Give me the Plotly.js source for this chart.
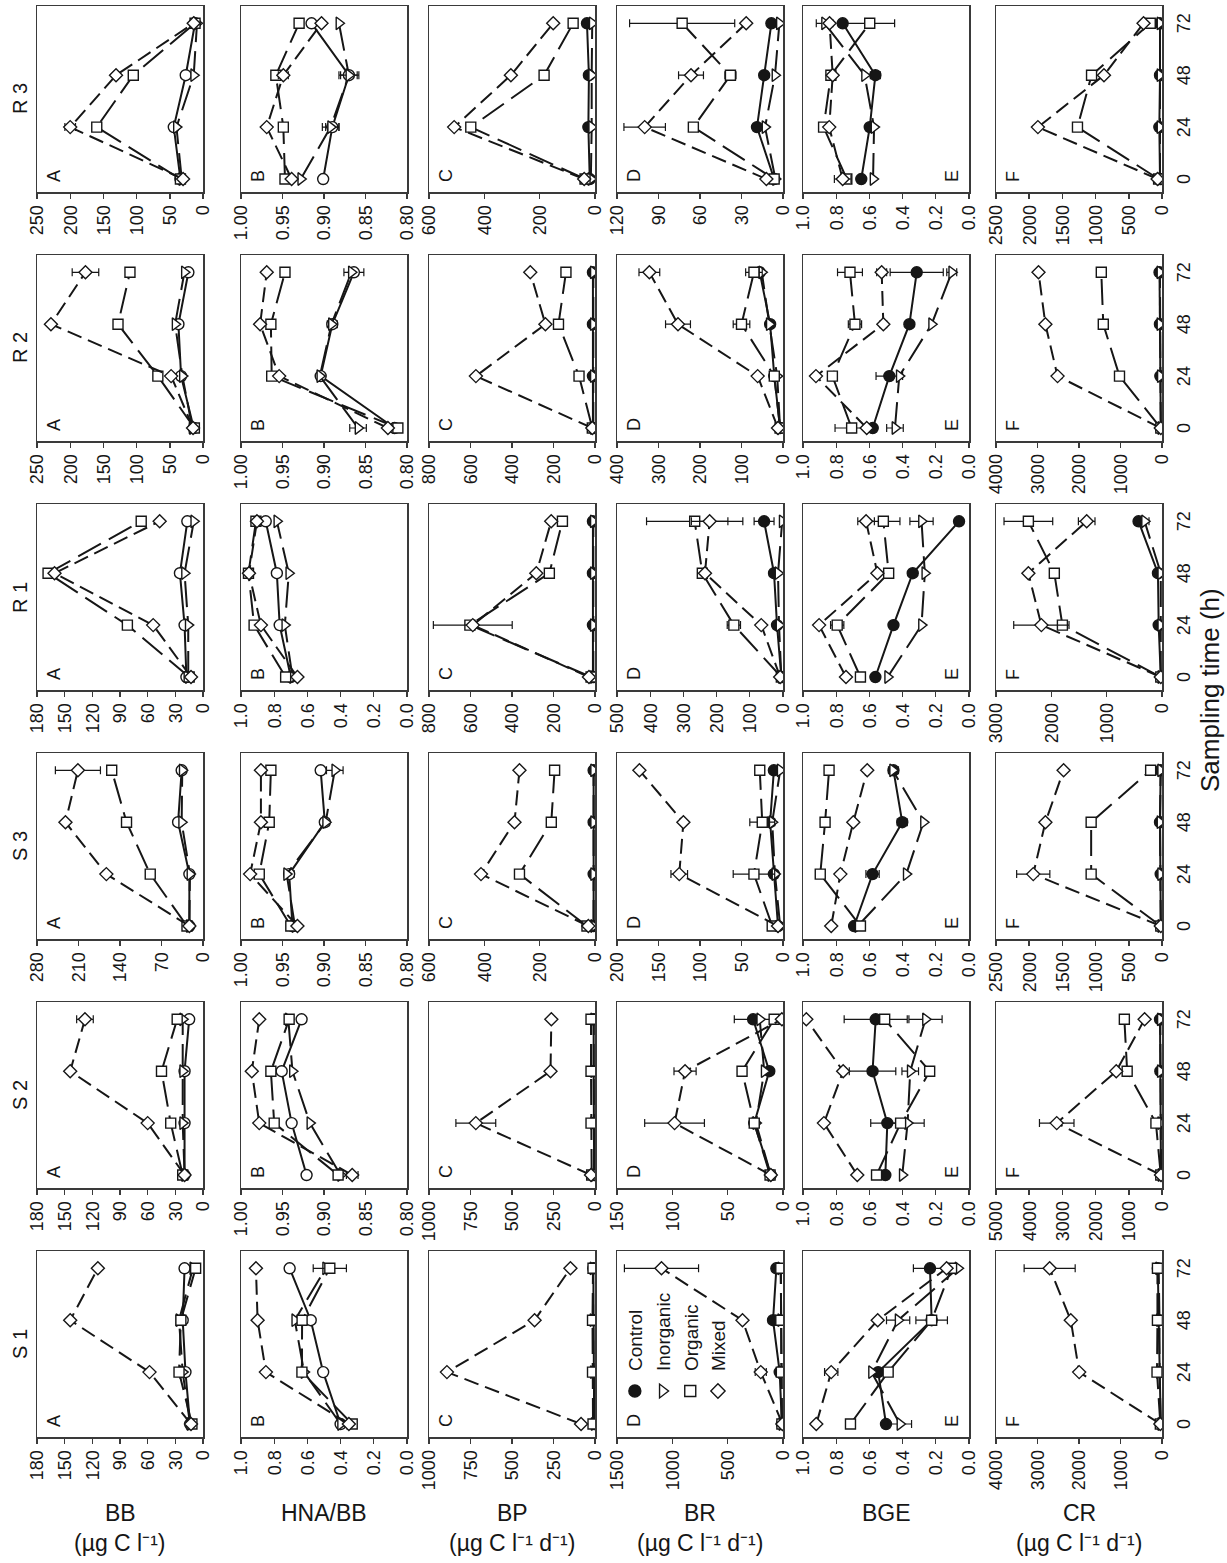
<!DOCTYPE html>
<html><head><meta charset="utf-8">
<script src="https://cdn.plot.ly/plotly-3.0.1.min.js"></script>
<style>
html,body{margin:0;padding:0;background:#fff;overflow:hidden}
#wrap{position:absolute;left:0;top:0;width:1227px;height:1563px;overflow:hidden;background:#fff}
#plot{position:absolute;left:0;top:0;width:1563px;height:1227px;transform-origin:0 0;transform:translate(0px,1563px) rotate(-90deg)}
</style></head>
<body><div id="wrap"><div id="plot"></div></div>
<script>
// ---------------- DATA ----------------
const TIMES = [0, 24, 48, 72];
const TIME_TICKS = ['0', '24', '48', '72'];
const STATIONS = ['S1', 'S2', 'S3', 'R1', 'R2', 'R3'];
const STATION_LABELS = ['S 1', 'S 2', 'S 3', 'R 1', 'R 2', 'R 3'];
const TREATMENTS = ['Control', 'Inorganic', 'Organic', 'Mixed'];
const VARIABLE_NAMES = ['BB', 'HNA/BB', 'BP', 'BR', 'BGE', 'CR'];
const VARIABLE_UNITS = ['(µg C l⁻¹)', '', '(µg C l⁻¹ d⁻¹)', '(µg C l⁻¹ d⁻¹)', '', '(µg C l⁻¹ d⁻¹)'];
const PANEL_LETTERS = ['A', 'B', 'C', 'D', 'E', 'F'];

// series per station: [Control, Inorganic, Organic, Mixed] at 0, 24, 48, 72 h
const BB = {
  S1: [[14, 19, 22, 20], [14, 22, 26, 11], [12, 26, 24, 8], [13, 58, 144, 114]],
  S2: [[20, 20, 20, 15], [20, 22, 22, 22], [22, 35, 45, 28], [20, 60, 144, 128]],
  S3: [[23, 23, 42, 36], [23, 22, 36, 35], [27, 89, 129, 154], [23, 163, 232, 211]],
  R1: [[18, 20, 25, 17], [16, 16, 20, 10], [15, 82, 168, 67], [13, 54, 161, 47]],
  R2: [[14, 33, 37, 22], [16, 31, 42, 28], [13, 68, 128, 110], [15, 48, 229, 177]],
  R3: [[34, 44, 26, 12], [32, 40, 14, 9], [34, 160, 105, 12], [30, 200, 131, 14]]
};
const HNA_BB = {
  S1: [[0.40, 0.505, 0.58, 0.707], [0.40, 0.62, 0.676, 0.49], [0.33, 0.633, 0.632, 0.465], [0.35, 0.85, 0.90, 0.91]],
  S2: [[0.921, 0.939, 0.951, 0.927], [0.880, 0.917, 0.938, 0.943], [0.883, 0.960, 0.964, 0.942], [0.866, 0.978, 0.987, 0.978]],
  S3: [[0.938, 0.942, 0.899, 0.904], [0.935, 0.945, 0.898, 0.887], [0.940, 0.978, 0.966, 0.964], [0.932, 0.989, 0.976, 0.976]],
  R1: [[0.70, 0.767, 0.784, 0.851], [0.69, 0.736, 0.712, 0.784], [0.731, 0.921, 0.955, 0.91], [0.66, 0.88, 0.952, 0.904]],
  R2: [[0.815, 0.904, 0.890, 0.864], [0.859, 0.905, 0.891, 0.867], [0.811, 0.963, 0.964, 0.947], [0.823, 0.954, 0.977, 0.969]],
  R3: [[0.901, 0.890, 0.870, 0.915], [0.928, 0.892, 0.870, 0.882], [0.947, 0.949, 0.958, 0.930], [0.939, 0.969, 0.949, 0.903]]
};
const BP = {
  S1: [[5, 8, 8, 10], [5, 10, 12, 12], [12, 15, 15, 12], [84, 892, 364, 148]],
  S2: [[5, 8, 8, 8], [5, 8, 8, 8], [20, 24, 24, 24], [24, 718, 268, 263]],
  S3: [[5, 5, 5, 5], [5, 5, 5, 5], [29, 273, 158, 146], [24, 412, 291, 273]],
  R1: [[10, 10, 10, 10], [8, 8, 8, 8], [19, 603, 220, 157], [29, 589, 283, 211]],
  R2: [[10, 10, 10, 10], [8, 8, 8, 8], [13, 77, 176, 140], [13, 574, 239, 312]],
  R3: [[19, 24, 22, 29], [15, 12, 12, 10], [36, 449, 184, 79], [39, 509, 304, 151]]
};
const BR = {
  S1: [[10, 30, 90, 60], [10, 15, 20, 20], [10, 15, 20, 20], [5, 201, 366, 1098]],
  S2: [[11, 26, 12.4, 27], [11, 24.5, 17, 21], [11.7, 26, 37, 8], [11, 98, 88.5, 1]],
  S3: [[6, 11, 15.5, 11], [3.4, 9.7, 13, 3.4], [13, 35, 25, 28], [6, 125, 120, 173]],
  R1: [[5, 18, 27, 57], [5, 12, 15, 2.4], [5, 148, 243, 266], [8.5, 65.5, 235, 221]],
  R2: [[7, 21, 31, 56], [7, 14, 33, 51], [7, 21, 100, 70], [12, 61, 253, 322]],
  R3: [[6.4, 18.8, 13.6, 8.4], [5.5, 13, 5.8, 2.6], [6.4, 64.8, 38, 72.9], [12, 100, 66.5, 26.6]]
};
const BGE = {
  S1: [[0.50, 0.547, 0.225, 0.235], [0.416, 0.587, 0.427, 0.066], [0.714, 0.487, 0.225, 0.105], [0.92, 0.83, 0.55, 0.135]],
  S2: [[0.504, 0.492, 0.581, 0.562], [0.402, 0.37, 0.354, 0.262], [0.557, 0.412, 0.237, 0.508], [0.673, 0.874, 0.758, 0.98]],
  S3: [[0.692, 0.581, 0.402, 0.455], [0.67, 0.378, 0.274, 0.46], [0.654, 0.896, 0.867, 0.843], [0.83, 0.775, 0.697, 0.613]],
  R1: [[0.564, 0.455, 0.339, 0.06], [0.49, 0.286, 0.266, 0.286], [0.654, 0.794, 0.484, 0.516], [0.741, 0.903, 0.552, 0.62]],
  R2: [[0.58, 0.48, 0.359, 0.315], [0.446, 0.42, 0.225, 0.104], [0.707, 0.823, 0.687, 0.717], [0.616, 0.922, 0.516, 0.526]],
  R3: [[0.649, 0.598, 0.564, 0.761], [0.578, 0.572, 0.629, 0.87], [0.736, 0.876, 0.832, 0.598], [0.761, 0.842, 0.821, 0.84]]
};
const CR = {
  S1: [[30, 60, 80, 100], [30, 60, 60, 80], [40, 120, 110, 110], [40, 1996, 2198, 2707]],
  S2: [[30, 40, 50, 60], [30, 40, 50, 50], [37, 183, 1049, 1134], [30, 3171, 1378, 524]],
  S3: [[18, 20, 30, 20], [18, 20, 30, 20], [18, 1067, 1067, 171], [18, 1939, 1756, 1482]],
  R1: [[22, 60, 73, 424], [22, 22, 22, 315], [22, 1800, 1946, 2415], [22, 2180, 2415, 1361]],
  R2: [[29, 40, 50, 60], [29, 40, 50, 50], [29, 1024, 1415, 1463], [29, 2517, 2810, 2976]],
  R3: [[30, 40, 30, 30], [30, 30, 30, 30], [51, 1273, 1061, 177], [66, 1869, 874, 278]]
};

// error bars (± values), same layout; missing station/series = no bars
const BB_ERR = { S2: [null, null, null, [0, 0, 0, 9]], S3: [null, null, null, [0, 0, 0, 38]],
  R2: [null, null, null, [0, 0, 0, 20]], R3: [null, null, null, [0, 8, 0, 0]] };
const HNA_BB_ERR = { S1: [null, null, [0, 0, 0, 0.1], null],
  S2: [[0.005, 0, 0, 0], null, [0.005, 0, 0, 0], [0.007, 0, 0, 0]],
  S3: [[0, 0.006, 0.005, 0], [0, 0, 0, 0.01], null, null],
  R2: [[0, 0, 0.006, 0.012], [0.01, 0, 0, 0], null, null],
  R3: [[0, 0.008, 0.012, 0], [0, 0.01, 0.01, 0], null, [0, 0, 0.006, 0]] };
const BP_ERR = { S2: [null, null, null, [0, 120, 0, 0]], R1: [null, null, null, [0, 190, 0, 0]] };
const BR_ERR = { S1: [null, null, null, [0, 50, 0, 335]],
  S2: [[0, 0, 0, 17], null, null, [0, 27, 10, 0]],
  S3: [null, null, [0, 25, 15, 0], [0, 10, 0, 0]],
  R1: [[0, 0, 0, 30], null, [0, 20, 0, 145], [0, 0, 0, 55]],
  R2: [null, null, [0, 0, 20, 20], [0, 0, 30, 25]],
  R3: [null, null, [0, 0, 4, 38], [0, 15, 9, 0]] };
const BGE_ERR = { S1: [[0, 0, 0, 0.1], [0.07, 0, 0.07, 0], [0, 0, 0.095, 0], [0, 0.04, 0, 0]],
  S2: [[0, 0.1, 0.14, 0.19], [0, 0.1, 0.05, 0.1], null, null],
  S3: [[0, 0.04, 0.03, 0.03], null, null, null],
  R1: [null, [0, 0, 0, 0.07], [0, 0.04, 0, 0.1], [0, 0, 0, 0.05]],
  R2: [[0, 0.08, 0, 0.16], [0.05, 0, 0, 0.03], [0.1, 0, 0.04, 0.075], [0, 0, 0.02, 0.03]],
  R3: [[0, 0, 0.03, 0], [0, 0, 0, 0.05], [0, 0, 0, 0.15], [0.05, 0, 0, 0]] };
const CR_ERR = { S1: [null, null, null, [0, 0, 0, 615]], S2: [null, null, null, [0, 520, 0, 0]],
  S3: [null, null, null, [0, 250, 0, 0]], R1: [null, [0, 0, 0, 80], [0, 0, 0, 440], [0, 500, 0, 150]] };

// value-axis [min, max, tick step] per station (S1..R3)
const BB_AXIS = [[0, 180, 30], [0, 180, 30], [0, 280, 70], [0, 180, 30], [0, 250, 50], [0, 250, 50]];
const HNA_BB_AXIS = [[0, 1, 0.2], [0.8, 1, 0.05], [0.8, 1, 0.05], [0, 1, 0.2], [0.8, 1, 0.05], [0.8, 1, 0.05]];
const BP_AXIS = [[0, 1000, 250], [0, 1000, 250], [0, 600, 200], [0, 800, 200], [0, 800, 200], [0, 600, 200]];
const BR_AXIS = [[0, 1500, 500], [0, 150, 50], [0, 200, 50], [0, 500, 100], [0, 400, 100], [0, 120, 30]];
const BGE_AXIS = [[0, 1, 0.2], [0, 1, 0.2], [0, 1, 0.2], [0, 1, 0.2], [0, 1, 0.2], [0, 1, 0.2]];
const CR_AXIS = [[0, 4000, 1000], [0, 5000, 1000], [0, 2500, 500], [0, 3000, 1000], [0, 4000, 1000], [0, 2500, 500]];

const VAR_DATA = [BB, HNA_BB, BP, BR, BGE, CR];
const VAR_ERR = [BB_ERR, HNA_BB_ERR, BP_ERR, BR_ERR, BGE_ERR, CR_ERR];
const VAR_AXIS = [BB_AXIS, HNA_BB_AXIS, BP_AXIS, BR_AXIS, BGE_AXIS, CR_AXIS];

// ---------------- LAYOUT / STYLE ----------------
const W = 1563, H = 1227;              // unrotated figure size
const COL_X0 = [126, 375, 624, 873, 1122, 1371], COL_W = 186;
const ROW_Y0 = [37, 241, 429, 617, 803, 996], ROW_H = 166;
const FONT = 'Liberation Sans, Arial, Helvetica, sans-serif';
const INK = '#161616';
const SYMBOLS = ['circle', 'triangle-down', 'square', 'diamond'];
const SIZES = [11, 11, 10, 10];
const DASHES = ['solid', '26px,9px', '26px,9px', '15px,7px'];

const layout = {
  width: W, height: H,
  margin: {l: 0, r: 0, t: 0, b: 0},
  paper_bgcolor: '#fff', plot_bgcolor: '#fff',
  font: {family: FONT, size: 18, color: INK},
  showlegend: true,
  legend: {x: 152 / W, y: 1 - 616 / H, xanchor: 'left', yanchor: 'top',
           bgcolor: 'rgba(0,0,0,0)', borderwidth: 0, tracegroupgap: 0,
           font: {family: FONT, size: 19, color: INK}, itemwidth: 30, itemsizing: 'trace'},
  annotations: []
};
const traces = [];

STATIONS.forEach((st, i) => {
  VARIABLE_NAMES.forEach((vn, j) => {
    const n = j * 6 + i + 1;
    const sfx = n === 1 ? '' : String(n);
    const [ymin, ymax, dt] = VAR_AXIS[j][i];
    layout['xaxis' + sfx] = {
      domain: [COL_X0[i] / W, (COL_X0[i] + COL_W) / W], range: [-6, 80], anchor: 'y' + sfx,
      tickmode: 'array', tickvals: TIMES, ticktext: TIME_TICKS, showticklabels: j === 5,
      ticks: j === 5 ? 'outside' : '', ticklen: 5, tickcolor: 'rgba(0,0,0,0)',
      tickfont: {family: FONT, size: 18, color: INK},
      showline: true, mirror: true, linecolor: '#3a3a3a', linewidth: 1.5,
      showgrid: false, zeroline: false, fixedrange: true
    };
    layout['yaxis' + sfx] = {
      domain: [1 - (ROW_Y0[j] + ROW_H) / H, 1 - ROW_Y0[j] / H], range: [ymin, ymax], anchor: 'x' + sfx,
      tickmode: 'linear', tick0: ymin, dtick: dt,
      tickformat: dt < 0.1 ? '.2f' : (dt < 1 ? '.1f' : 'd'),
      ticks: 'outside', ticklen: 5, tickwidth: 1.4, tickcolor: '#3a3a3a', ticklabelstandoff: 3,
      tickfont: {family: FONT, size: 18, color: INK},
      showline: true, mirror: true, linecolor: '#3a3a3a', linewidth: 1.5,
      showgrid: false, zeroline: false, fixedrange: true
    };
    const series = VAR_DATA[j][st];
    const errs = VAR_ERR[j][st] || [null, null, null, null];
    TREATMENTS.forEach((tn, k) => {
      const filled = (k === 0 && j >= 2);
      const tr = {
        type: 'scatter', mode: 'lines+markers', x: TIMES, y: series[k],
        xaxis: 'x' + sfx, yaxis: 'y' + sfx, name: tn, showlegend: false, hoverinfo: 'skip',
        line: {color: INK, width: 2, dash: DASHES[k]},
        marker: {symbol: SYMBOLS[k], size: SIZES[k], color: filled ? INK : '#fff',
                 line: {color: INK, width: 1.4}}
      };
      if (errs[k]) tr.error_y = {type: 'data', array: errs[k], visible: true,
                                 thickness: 1.2, width: 4, color: INK};
      traces.push(tr);
    });
    // panel letter
    const isE = (j === 4);
    layout.annotations.push({
      xref: 'x' + sfx + ' domain', yref: 'y' + sfx + ' domain',
      x: 0, y: isE ? 0 : 1, xanchor: 'left', yanchor: isE ? 'bottom' : 'top',
      xshift: 8, yshift: isE ? 5 : -5, showarrow: false, text: PANEL_LETTERS[j],
      font: {family: FONT, size: 18, color: INK}
    });
  });
  // station label
  layout.annotations.push({
    xref: 'paper', yref: 'paper', x: (COL_X0[i] + COL_W / 2) / W, y: 1 - 20 / H,
    xanchor: 'center', yanchor: 'middle', showarrow: false, text: STATION_LABELS[i],
    font: {family: FONT, size: 20, color: INK}
  });
});

// variable labels (rotated so they read horizontally after the page rotation)
VARIABLE_NAMES.forEach((vn, j) => {
  const cy = 1 - (ROW_Y0[j] + ROW_H / 2) / H;
  layout.annotations.push({xref: 'paper', yref: 'paper', x: 50 / W, y: cy, textangle: 90,
    xanchor: 'center', yanchor: 'middle', showarrow: false, text: vn,
    font: {family: FONT, size: 23, color: INK}});
  if (VARIABLE_UNITS[j]) layout.annotations.push({xref: 'paper', yref: 'paper', x: 20 / W, y: cy, textangle: 90,
    xanchor: 'center', yanchor: 'middle', showarrow: false, text: VARIABLE_UNITS[j],
    font: {family: FONT, size: 23, color: INK}});
});

layout.annotations.push({xref: 'paper', yref: 'paper', x: 873 / W, y: 1 - 1210 / H,
  xanchor: 'center', yanchor: 'middle', showarrow: false, text: 'Sampling time (h)',
  font: {family: FONT, size: 26, color: INK}});

// legend-only entries (markers only), in the S1 BR panel
const legN = 3 * 6 + 0 + 1;
TREATMENTS.forEach((tn, k) => {
  traces.push({type: 'scatter', mode: 'markers', x: [null], y: [null],
    xaxis: 'x' + legN, yaxis: 'y' + legN, name: tn, showlegend: true, hoverinfo: 'skip',
    marker: {symbol: SYMBOLS[k], size: SIZES[k] + 1, color: k === 0 ? INK : '#fff',
             line: {color: INK, width: 1.4}}});
});

Plotly.newPlot('plot', traces, layout, {staticPlot: true, displayModeBar: false});
</script></body></html>
